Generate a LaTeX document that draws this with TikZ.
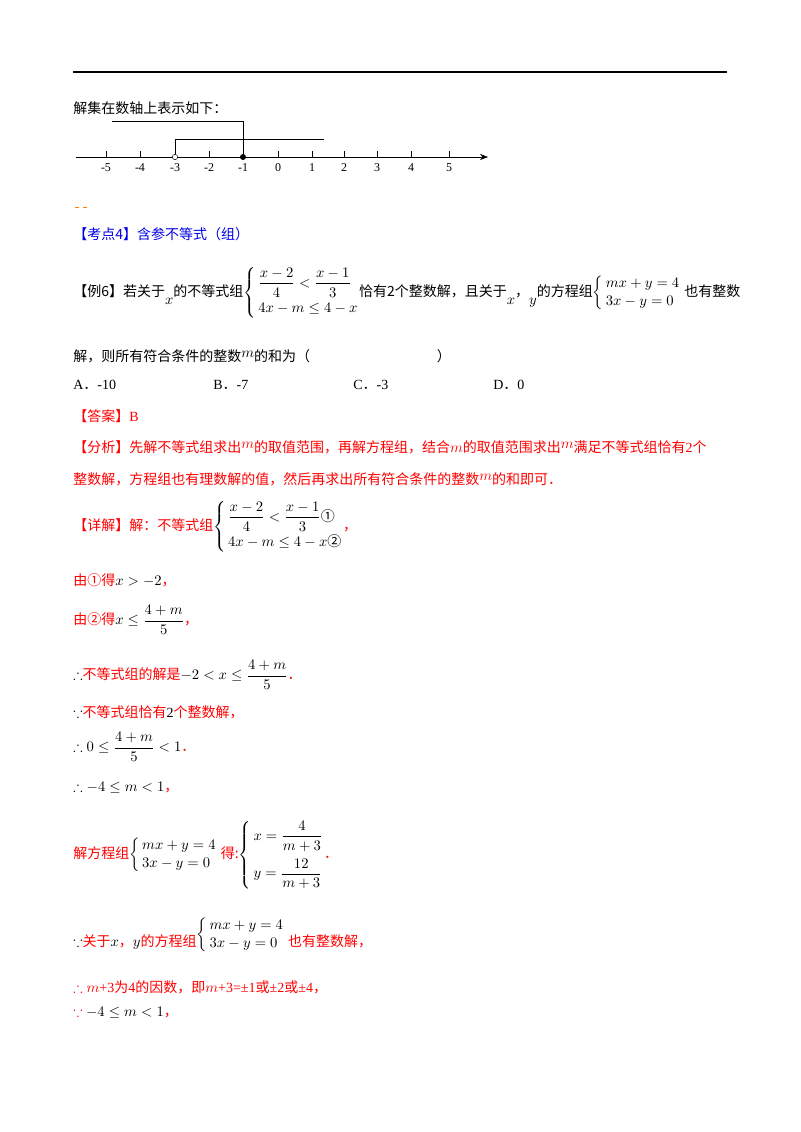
\documentclass[tikz,border=0pt]{standalone}
\usepackage{amsmath,amssymb}
\usepackage{fontspec}
\setmainfont{Liberation Serif}
\newfontfamily\cjk{Noto Sans CJK SC}
\usetikzlibrary{arrows.meta}
\definecolor{myred}{RGB}{255,0,0}
\definecolor{myblue}{RGB}{0,0,230}
\tikzset{t/.style={anchor=west,inner sep=0pt,font=\fontsize{10.5}{13}\selectfont},
 r/.style={t,text=myred}, b/.style={t,text=myblue}}
\newcommand{\cn}[1]{{\cjk #1}}
\newcommand{\bk}[1]{\textcolor{black}{#1}}
\newcommand{\sys}[1]{\left\{\,\begin{array}{@{}l@{}}#1\end{array}\right.}
\begin{document}
\begin{tikzpicture}[x=0.75pt,y=-0.75pt]
\useasboundingbox (0,0) rectangle (800,1132);
\draw[line width=1.5pt] (73,72) -- (727,72);
\node[t] (l0) at (73,108) {\cn{解集在数轴上表示如下：}};
\coordinate (a0) at (76,157); \coordinate (a1) at (488,157);
\draw[-{Stealth[length=6pt]}] (a0) -- (a1);
\foreach \v/\xx in {-5/106,-4/140,-3/175,-2/209,-1/243,0/278,1/312,2/344,3/377,4/411,5/449}{
  \draw (\xx,157) -- (\xx,151);
  \node[font=\fontsize{9}{10}\selectfont] at (\xx,168) {\v};}
\draw (112,121) -- (243,121) -- (243,157);
\draw (175,157) -- (175,139) -- (324,139);
\node[circle,draw,fill=white,inner sep=0pt,minimum size=4pt] (o1) at (175,157) {};
\node[circle,draw,fill=black,inner sep=0pt,minimum size=4pt] (o2) at (243,157) {};
\draw[orange,dashed,line width=0.4pt] (75,207) -- (88,207);
\node[b] (k4) at (73,234) {\cn{【考点4】含参不等式（组）}};
\node[t] (e6) at (73,293) {\cn{【例6】若关于}\raisebox{-1.2ex}{$x$}\cn{的不等式组}$\sys{\dfrac{x-2}{4}<\dfrac{x-1}{3}\\[6pt] 4x-m\le 4-x}$\cn{恰有2个整数解，且关于}\raisebox{-1.2ex}{$x$}\cn{，}\raisebox{-1.2ex}{$y$}\cn{的方程组}$\sys{mx+y=4\\ 3x-y=0}$\ \cn{也有整数}};
\node[t] (e6b) at (73,356) {\cn{解，则所有符合条件的整数}\raisebox{0.6ex}{$m$}\cn{的和为（}\hspace{95pt}\cn{）}};
\node[t] (oa) at (73,385) {A\cn{．}-10};
\node[t] (ob) at (213,385) {B\cn{．}-7};
\node[t] (oc) at (353,385) {C\cn{．}-3};
\node[t] (od) at (493,385) {D\cn{．}0};
\node[r] (ans) at (73,416) {\cn{【答案】}B};
\node[r] (fx1) at (73,447) {\cn{【分析】先解不等式组求出}\raisebox{0.6ex}{$m$}\cn{的取值范围，再解方程组，结合}$m$\cn{的取值范围求出}\raisebox{0.6ex}{$m$}\cn{满足不等式组恰有}2\cn{个}};
\node[r] (fx2) at (73,479) {\cn{整数解，方程组也有理数解的值，然后再求出所有符合条件的整数}\raisebox{0.6ex}{$m$}\cn{的和即可．}};
\node[r] (xj) at (73,527) {\cn{【详解】解：不等式组}\bk{$\sys{\dfrac{x-2}{4}<\dfrac{x-1}{3}\text{\cjk ①}\\[6pt] 4x-m\le 4-x\text{\cjk ②}}$}\cn{，}};
\node[r] (s1) at (73,580) {\cn{由①得}\bk{$x>-2$}\cn{，}};
\node[r] (s2) at (73,620) {\cn{由②得}\bk{$x\le\dfrac{4+m}{5}$}\cn{，}};
\node[r] (s3) at (73,675) {\bk{$\therefore$}\cn{不等式组的解是}\bk{$-2<x\le\dfrac{4+m}{5}$}\cn{．}};
\node[r] (s4) at (73,712) {\bk{$\because$}\cn{不等式组恰有}\bk{2}\cn{个整数解，}};
\node[r] (s5) at (73,747) {\bk{$\therefore 0\le\dfrac{4+m}{5}<1$}\cn{．}};
\node[r] (s6) at (73,788) {\bk{$\therefore -4\le m<1$}\cn{，}};
\node[r] (s7) at (73,855) {\cn{解方程组}\bk{$\sys{mx+y=4\\ 3x-y=0}$}\ \cn{得:}\bk{$\sys{x=\dfrac{4}{m+3}\\[10pt] y=\dfrac{12}{m+3}}$}\cn{．}};
\node[r] (s8) at (73,935) {\bk{$\because$}\cn{关于}\bk{$x$}\cn{，}\bk{$y$}\cn{的方程组}\bk{\raisebox{1.2ex}{$\sys{mx+y=4\\ 3x-y=0}$}}\ \cn{也有整数解，}};
\node[r] (s9) at (73,987) {$\therefore m$+3\cn{为}4\cn{的因数，即}$m$+3=±1\cn{或}±2\cn{或}±4\cn{，}};
\node[r] (s10) at (73,1013) {$\because$\ \bk{$-4\le m<1$}\cn{，}};
\end{tikzpicture}
\end{document}
